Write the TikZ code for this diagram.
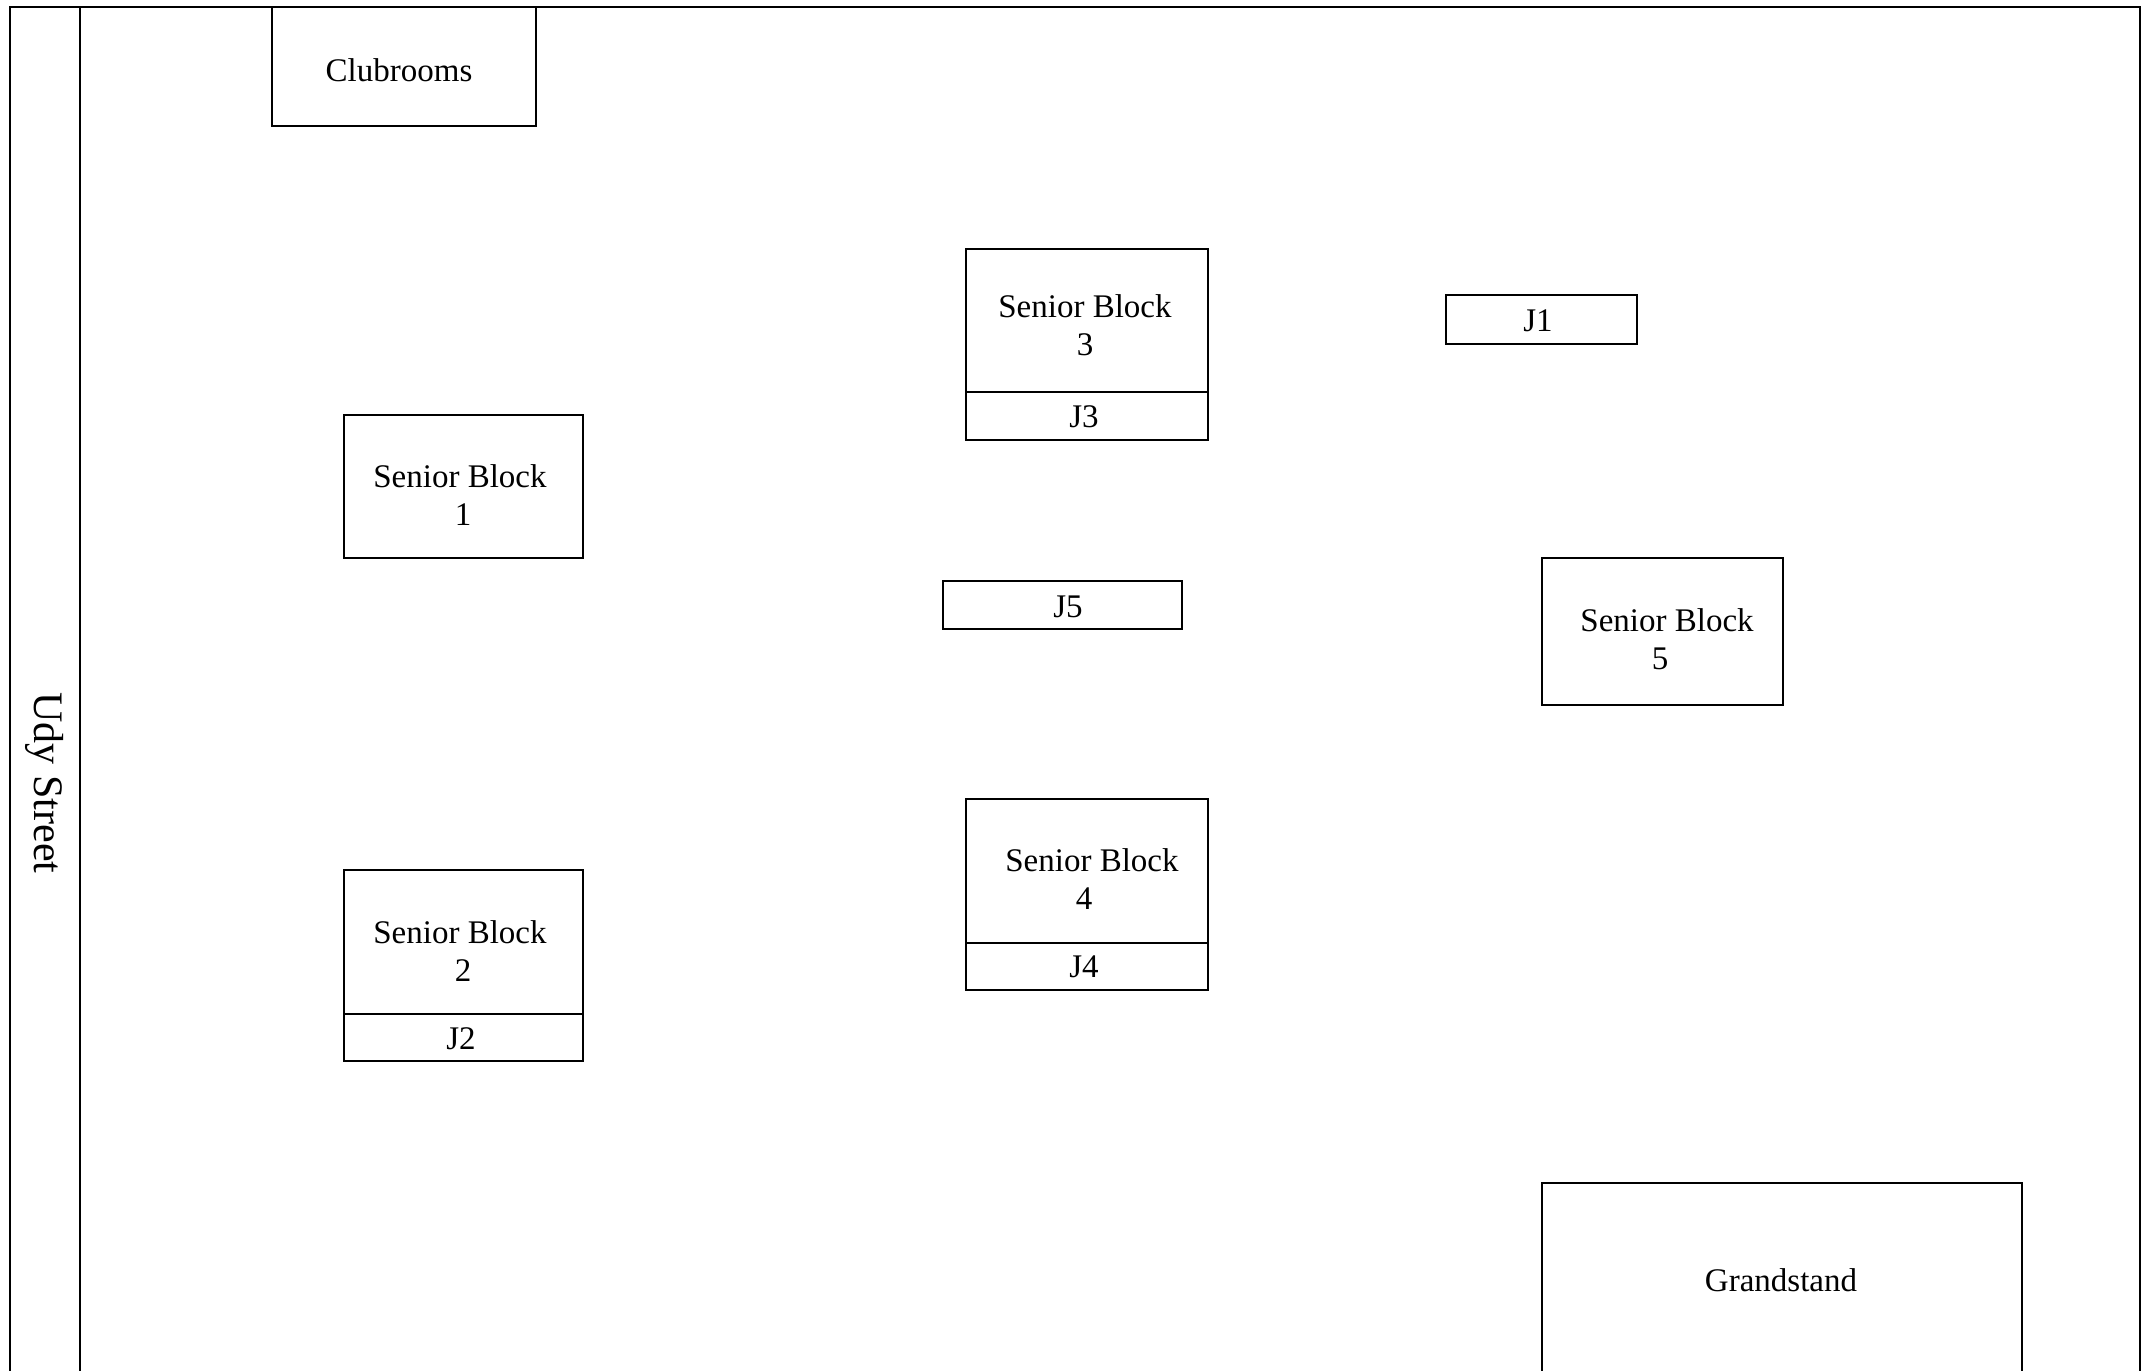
\documentclass[tikz,border=0pt]{standalone}
\usepackage{fontspec}
\setmainfont{Liberation Serif}
\begin{document}
\begin{tikzpicture}[x=0.5pt,y=-0.5pt,
  wall/.style={line width=1.1pt, line join=miter},
  box/.style={draw, line width=1.1pt, rectangle, inner sep=0pt, outer sep=0pt, anchor=north west},
  lbl/.style={font=\fontsize{16.5}{19}\selectfont, align=center, inner sep=0pt}]
\useasboundingbox (0,0) rectangle (2155,1370);
% outer frame and street
\draw[wall] (9.6,1372) -- (9.6,6.9) -- (2140,6.9) -- (2140,1372);
\draw[wall] (79.7,6.9) -- (79.7,1372);
\node[rotate=-90, font=\fontsize{21}{24}\selectfont, inner sep=0pt] (street) at (45,783) {Udy Street};
% clubrooms
\node[box, minimum width=132pt, minimum height=59.5pt] (club) at (272,6.9) {};
\node[lbl] (clubt) at (399,70) {Clubrooms};
% senior block 3 + J3
\node[box, minimum width=121pt, minimum height=71.5pt] (sb3) at (966,249) {};
\node[box, minimum width=121pt, minimum height=24pt] (j3) at (966,392) {};
\node[lbl] (sb3t) at (1085,325) {Senior Block\\3};
\node[lbl] (j3t) at (1084,417) {J3};
% J1
\node[box, minimum width=95.5pt, minimum height=24.5pt] (j1) at (1446,295) {};
\node[lbl] (j1t) at (1538,321) {J1};
% senior block 1
\node[box, minimum width=119.5pt, minimum height=71.5pt] (sb1) at (344,415) {};
\node[lbl] (sb1t) at (460,495) {Senior Block\\\hspace*{3pt}1};
% J5
\node[box, minimum width=119.5pt, minimum height=24pt] (j5) at (943,581) {};
\node[lbl] (j5t) at (1068,607) {J5};
% senior block 5
\node[box, minimum width=120.5pt, minimum height=73.5pt] (sb5) at (1542,558) {};
\node[lbl] (sb5t) at (1667,639) {Senior Block\\\hspace*{-7pt}5};
% senior block 4 + J4
\node[box, minimum width=121pt, minimum height=72pt] (sb4) at (966,799) {};
\node[box, minimum width=121pt, minimum height=23.5pt] (j4) at (966,943) {};
\node[lbl] (sb4t) at (1092,879) {Senior Block\\\hspace*{-8pt}4};
\node[lbl] (j4t) at (1084,967) {J4};
% senior block 2 + J2
\node[box, minimum width=119.5pt, minimum height=72pt] (sb2) at (344,870) {};
\node[box, minimum width=119.5pt, minimum height=23.5pt] (j2) at (344,1014) {};
\node[lbl] (sb2t) at (460,951) {Senior Block\\\hspace*{3pt}2};
\node[lbl] (j2t) at (461,1039) {J2};
% grandstand (open at the bottom edge)
\draw[wall] (1542,1372) -- (1542,1183) -- (2022,1183) -- (2022,1372);
\node[lbl] (grand) at (1781,1280) {Grandstand};
\end{tikzpicture}
\end{document}
